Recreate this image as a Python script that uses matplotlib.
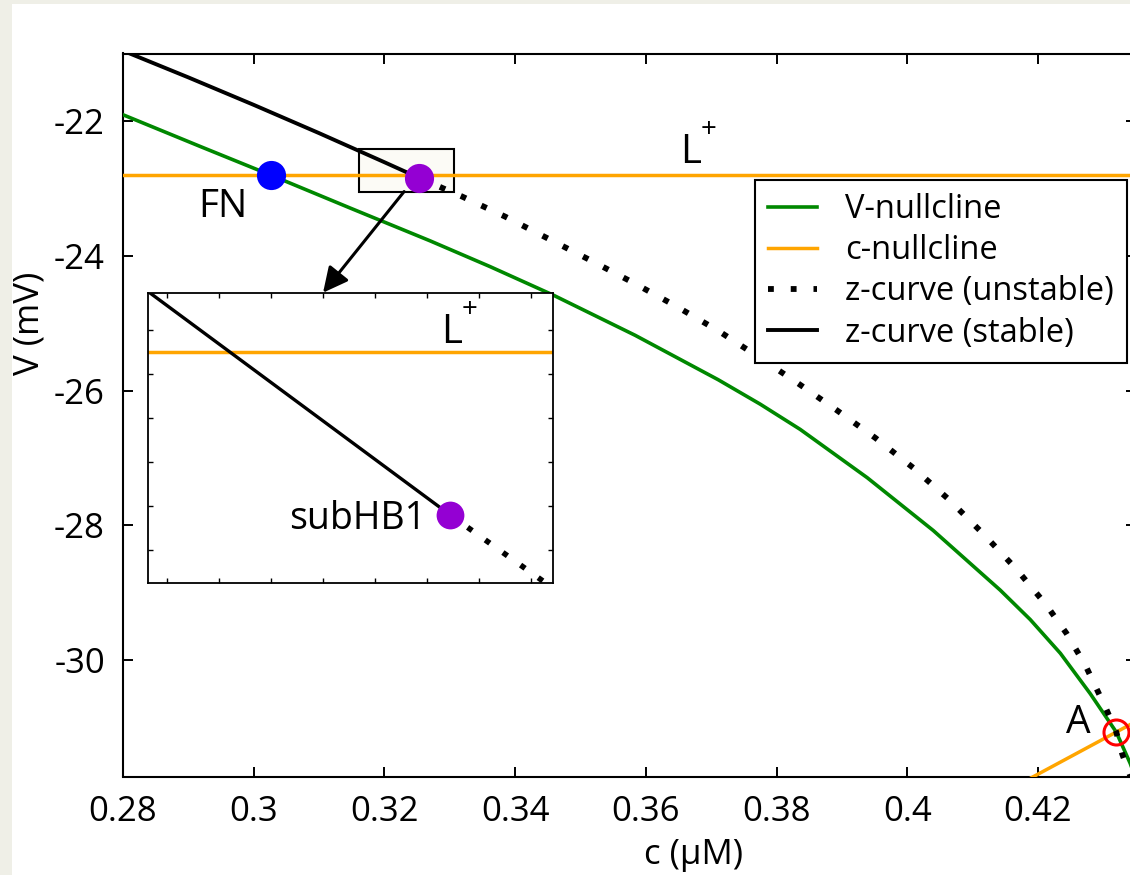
"""Phase plane near the upper fold: nullclines, z-curve and the subHB1 point."""
import matplotlib
matplotlib.use('Agg')
import matplotlib.pyplot as plt
from matplotlib.patches import Rectangle

plt.rcParams['font.family'] = ['Open Sans', 'DejaVu Sans']
plt.rcParams['axes.unicode_minus'] = False

# ---- data -------------------------------------------------------------
# V-nullcline
vnull_c = [0.278, 0.28, 0.29179, 0.3027, 0.31474, 0.32699, 0.33617, 0.34581,
           0.35836, 0.37107, 0.37750, 0.38362, 0.39387, 0.40398, 0.41423,
           0.41882, 0.42342, 0.42801, 0.43198, 0.43413, 0.43566]
vnull_v = [-21.81, -21.900, -22.370, -22.80, -23.285, -23.773, -24.156, -24.578,
           -25.176, -25.836, -26.199, -26.574, -27.291, -28.076, -28.962,
           -29.399, -29.899, -30.501, -31.07, -31.539, -31.955]

# c-nullcline: upper plateau (L+) and lower branch through A
L_PLUS = -22.80
cnull_c = [0.27, 0.44]
cnull_lo_c = [0.418, 0.43198, 0.436]
cnull_lo_v = [-31.80, -31.07, -30.86]

# z-curve, stable part (ends at subHB1) and unstable part
zs_c = [0.278, 0.28, 0.29, 0.30, 0.31, 0.32, 0.3241, 0.32529]
zs_v = [-20.871, -20.949, -21.345, -21.753, -22.173, -22.605, -22.785, -22.837]
zu_c = [0.32529, 0.33189, 0.33847, 0.34505, 0.35163, 0.35806, 0.36449, 0.37107,
        0.37719, 0.38316, 0.38913, 0.39510, 0.40092, 0.40643, 0.41163, 0.41668,
        0.42127, 0.42433, 0.42724, 0.43045, 0.43198, 0.43290, 0.4349]
zu_v = [-22.837, -23.115, -23.413, -23.740, -24.067, -24.394, -24.736, -25.108,
        -25.494, -25.881, -26.283, -26.699, -27.145, -27.621, -28.126, -28.647,
        -29.182, -29.599, -30.074, -30.729, -31.07, -31.398, -31.93]

# special points
FN = (0.3027, -22.80)
SUBHB1 = (0.32529, -22.837)
A = (0.43198, -31.07)

# zoom window drawn on the main axes
BOX_C, BOX_V, BOX_W, BOX_H = 0.31612, -23.041, 0.01454, 0.625

XTICKS = [0.28, 0.30, 0.32, 0.34, 0.36, 0.38, 0.40, 0.42]
XTICKLABELS = ['0.28', '0.3', '0.32', '0.34', '0.36', '0.38', '0.4', '0.42']
YTICKS = [-30, -28, -26, -24, -22]
YTICKLABELS = ['-30', '-28', '-26', '-24', '-22']

INSET_XLIM = (0.3241285, 0.3256862)
INSET_YLIM = (-22.8525, -22.78659)
INSET_XTICKS = [0.3242, 0.3244, 0.3246, 0.3248, 0.3250, 0.3252, 0.3254, 0.3256]
INSET_YTICKS = [-22.845, -22.835, -22.825, -22.815, -22.805, -22.795]

GREEN = '#008800'
ORANGE = '#ffa500'
VIOLET = '#9400d3'
DOTS = (0, (1, 2.9))

# ---- figure -----------------------------------------------------------
W, H = 1130, 875
fig = plt.figure(figsize=(W / 100, H / 100), dpi=100, facecolor='#efefe7')
fig.patches.append(Rectangle((12 / W, 0), 1, 1 - 4 / H, transform=fig.transFigure,
                             facecolor='white', edgecolor='none', zorder=-10))

ax = fig.add_axes([123 / W, 1 - 776.5 / H, 1013 / W, 723 / H])
ax.plot(vnull_c, vnull_v, color=GREEN, lw=2.6, label='V-nullcline', zorder=3)
ax.plot(cnull_c, [L_PLUS, L_PLUS], color=ORANGE, lw=2.5, label='c-nullcline', zorder=3)
ax.plot(cnull_lo_c, cnull_lo_v, color=ORANGE, lw=2.5, zorder=3)
ax.plot(zu_c, zu_v, color='black', lw=4.2, linestyle=DOTS,
        label='z-curve (unstable)', zorder=4)
ax.plot(zs_c, zs_v, color='black', lw=2.8, label='z-curve (stable)', zorder=4)

ax.add_patch(Rectangle((BOX_C, BOX_V), BOX_W, BOX_H, facecolor='#fcfbf6',
                       edgecolor='black', lw=1.5, zorder=2))

ax.plot(*FN, 'o', color='blue', ms=21, mew=0, zorder=6)
ax.plot(*SUBHB1, 'o', color=VIOLET, ms=21, mew=0, zorder=6)
ax.plot(*A, 'o', mfc='none', mec='red', ms=18, mew=2.2, zorder=6)

ax.text(0.29531, -23.413, 'FN', fontsize=28, ha='center', va='baseline')
ax.text(0.42617, -31.086, 'A', fontsize=28, ha='center', va='baseline')
ax.text(0.36678, -22.610, 'L', fontsize=29, ha='center', va='baseline')
ax.text(0.36954, -22.223, '+', fontsize=20, ha='center', va='baseline')

ax.annotate('', xy=(0.31061, -24.543), xytext=(0.32301, -23.041),
            arrowprops=dict(arrowstyle='-|>', color='black', lw=2.2,
                            mutation_scale=38, shrinkA=0, shrinkB=0),
            zorder=5)

ax.set_xlim(0.28, 0.435)
ax.set_ylim(-31.73, -20.99)
ax.set_xticks(XTICKS)
ax.set_xticklabels(XTICKLABELS)
ax.set_yticks(YTICKS)
ax.set_yticklabels(YTICKLABELS)
ax.tick_params(direction='in', length=7.5, width=1.4, top=True, right=True,
               labelsize=25, pad=13)
for sp in ax.spines.values():
    sp.set_linewidth(1.5)

leg = ax.legend(loc='upper left', bbox_to_anchor=(755 / W, 1 - 180 / H),
                bbox_transform=fig.transFigure, borderaxespad=0, fontsize=23.5,
                frameon=True, fancybox=False, framealpha=1, edgecolor='black',
                handlelength=1.5, handletextpad=0.85, labelspacing=0.25,
                borderpad=0.4)
leg.get_frame().set_linewidth(1.5)
leg.set_zorder(10)

fig.text(30 / W, 1 - 323 / H, 'V (mV)', rotation=90, fontsize=25,
         ha='center', va='center')
fig.text(694 / W, 1 - 855 / H, 'c (µM)', fontsize=25, ha='center', va='center')

# ---- inset: close-up around subHB1 -----------------------------------
ins = fig.add_axes([148 / W, 1 - 583 / H, 405 / W, 290 / H])
ins.plot(cnull_c, [L_PLUS, L_PLUS], color=ORANGE, lw=2.5)
ins.plot(zu_c, zu_v, color='black', lw=4.0, linestyle=DOTS)
ins.plot(zs_c, zs_v, color='black', lw=2.4)
ins.plot(*SUBHB1, 'o', color=VIOLET, ms=20, mew=0, zorder=6)
ins.text(0.3251977, -22.84023, 'subHB1', fontsize=27, ha='right', va='baseline')
ins.text(0.3252977, -22.79795, 'L', fontsize=29, ha='center', va='baseline')
ins.text(0.3253670, -22.79204, '+', fontsize=20, ha='center', va='baseline')
ins.set_xlim(*INSET_XLIM)
ins.set_ylim(*INSET_YLIM)
ins.set_xticks(INSET_XTICKS)
ins.set_yticks(INSET_YTICKS)
ins.tick_params(direction='in', length=3.6, width=1.0, top=True, right=True,
                labelbottom=False, labelleft=False)
for sp in ins.spines.values():
    sp.set_linewidth(1.3)

fig.savefig('out.png', dpi=100, facecolor=fig.get_facecolor())
